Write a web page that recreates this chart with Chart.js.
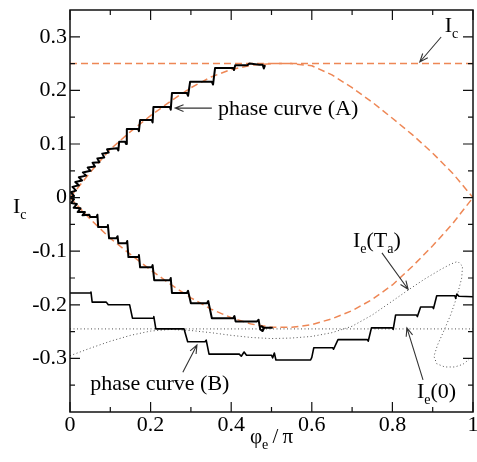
<!DOCTYPE html>
<html>
<head>
<meta charset="utf-8">
<script src="https://cdn.jsdelivr.net/npm/chart.js@4.4.0/dist/chart.umd.min.js"></script>
<style>
  body { margin: 0; background: #fff; }
  #wrap { width: 477px; height: 462px; }
</style>
</head>
<body>
<div id="wrap"><canvas id="canvas1" width="477" height="462"></canvas></div>
<script>
// tick values and labels
const xTickVals = [0, 0.2, 0.4, 0.6, 0.8, 1];
const xTickLabels = ['0', '0.2', '0.4', '0.6', '0.8', '1'];
const xMinorVals = [0.1, 0.3, 0.5, 0.7, 0.9];
const yTickVals = [-0.3, -0.2, -0.1, 0, 0.1, 0.2, 0.3];
const yTickLabels = ['-0.3', '-0.2', '-0.1', '0', '0.1', '0.2', '0.3'];
const yMinorVals = [-0.35, -0.25, -0.15, -0.05, 0.05, 0.15, 0.25];

// phase curve (A), upper branch  [phi_e/pi, I]
const phaseAUpper = [
    [0, 0], [0.010, 0.003], [0.002, 0.010], [0.015, 0.013], [0.006, 0.020], [0.022, 0.023],
    [0.013, 0.029], [0.030, 0.032], [0.022, 0.038], [0.040, 0.041], [0.032, 0.047], [0.051, 0.050],
    [0.044, 0.056], [0.062, 0.058], [0.056, 0.065], [0.073, 0.066], [0.068, 0.073], [0.085, 0.075],
    [0.080, 0.082], [0.096, 0.084], [0.092, 0.090], [0.117, 0.092], [0.120, 0.088], [0.122, 0.104],
    [0.137, 0.104], [0.139, 0.100], [0.141, 0.128], [0.169, 0.128], [0.171, 0.124], [0.174, 0.145],
    [0.203, 0.145], [0.205, 0.140], [0.207, 0.169], [0.248, 0.169], [0.250, 0.164], [0.253, 0.195],
    [0.290, 0.195], [0.293, 0.190], [0.298, 0.216], [0.352, 0.216], [0.355, 0.211], [0.360, 0.242],
    [0.405, 0.242], [0.407, 0.238], [0.410, 0.247], [0.440, 0.247], [0.445, 0.250], [0.470, 0.248],
    [0.478, 0.248], [0.481, 0.241], [0.484, 0.247]
];
// phase curve (A), lower branch
const phaseALower = [
    [0, 0], [0.010, -0.003], [0.003, -0.010], [0.017, -0.012], [0.009, -0.019], [0.026, -0.020],
    [0.019, -0.027], [0.037, -0.027], [0.031, -0.033], [0.048, -0.032], [0.050, -0.036],
    [0.066, -0.036], [0.068, -0.032], [0.070, -0.055], [0.092, -0.055], [0.094, -0.051],
    [0.097, -0.076], [0.115, -0.076], [0.118, -0.072], [0.120, -0.085], [0.140, -0.085],
    [0.142, -0.081], [0.145, -0.111], [0.169, -0.111], [0.171, -0.107], [0.174, -0.130],
    [0.203, -0.130], [0.205, -0.126], [0.209, -0.154], [0.248, -0.154], [0.250, -0.150],
    [0.253, -0.178], [0.290, -0.178], [0.293, -0.174], [0.300, -0.197], [0.340, -0.197],
    [0.343, -0.193], [0.352, -0.225], [0.405, -0.225], [0.408, -0.221], [0.411, -0.231],
    [0.464, -0.231], [0.468, -0.228], [0.472, -0.246], [0.478, -0.249], [0.482, -0.243],
    [0.475, -0.240], [0.480, -0.243], [0.503, -0.243]
];
// phase curve (B)
const phaseB = [
    [0, -0.178], [0.050, -0.178], [0.052, -0.176], [0.055, -0.195], [0.090, -0.195], [0.095, -0.200],
    [0.141, -0.200], [0.148, -0.200], [0.155, -0.225], [0.206, -0.225], [0.208, -0.222],
    [0.213, -0.245], [0.280, -0.245], [0.283, -0.245], [0.292, -0.269], [0.335, -0.269],
    [0.338, -0.266], [0.345, -0.292], [0.420, -0.292], [0.425, -0.296], [0.432, -0.288],
    [0.438, -0.294], [0.500, -0.294], [0.503, -0.299], [0.507, -0.290], [0.511, -0.303],
    [0.597, -0.303], [0.600, -0.298], [0.605, -0.280], [0.652, -0.280], [0.654, -0.283],
    [0.665, -0.265], [0.738, -0.265], [0.740, -0.268], [0.748, -0.243], [0.800, -0.243],
    [0.802, -0.246], [0.808, -0.219], [0.860, -0.219], [0.862, -0.222], [0.870, -0.204],
    [0.900, -0.204], [0.902, -0.207], [0.910, -0.183], [0.955, -0.183], [0.957, -0.188],
    [0.960, -0.180], [0.965, -0.184], [1.0, -0.185]
];
// dashed Ic curves
const icTop = [[0, 0.25], [1, 0.25]];
const icUpper = [
    [0, 0], [0.05, 0.047], [0.1, 0.09], [0.15, 0.123], [0.2, 0.153], [0.25, 0.18], [0.3, 0.205],
    [0.35, 0.225], [0.4, 0.239], [0.45, 0.247], [0.5, 0.25], [0.55, 0.25], [0.6, 0.246],
    [0.65, 0.229], [0.7, 0.205], [0.75, 0.178], [0.8, 0.148], [0.85, 0.117], [0.9, 0.083],
    [0.95, 0.045], [1.0, 0]
];
const icLower = [
    [0, 0], [0.05, -0.04], [0.1, -0.076], [0.15, -0.106], [0.2, -0.135], [0.25, -0.162],
    [0.3, -0.187], [0.35, -0.208], [0.4, -0.224], [0.45, -0.236], [0.5, -0.242], [0.55, -0.242],
    [0.6, -0.237], [0.65, -0.226], [0.7, -0.211], [0.75, -0.19], [0.8, -0.163], [0.85, -0.128],
    [0.9, -0.09], [0.95, -0.048], [1.0, 0]
];
// dotted Ie curves
const ie0 = [[0, -0.245], [1, -0.245]];
const ieTa = [
    [0, -0.295], [0.05, -0.281], [0.1, -0.268], [0.15, -0.257], [0.2, -0.249], [0.25, -0.246],
    [0.3, -0.248], [0.35, -0.252], [0.4, -0.257], [0.45, -0.261], [0.5, -0.263], [0.55, -0.262],
    [0.6, -0.259], [0.65, -0.252], [0.7, -0.24], [0.75, -0.219], [0.8, -0.193], [0.84, -0.172],
    [0.88, -0.152], [0.92, -0.134], [0.945, -0.124], [0.962, -0.119], [0.974, -0.128],
    [0.972, -0.15], [0.96, -0.185], [0.945, -0.218], [0.928, -0.248], [0.912, -0.275],
    [0.903, -0.296], [0.91, -0.31], [0.93, -0.316], [0.955, -0.316], [0.975, -0.311], [0.99, -0.302]
];

const FONT = '"Liberation Serif", "DejaVu Serif", serif';

function pts(arr) {
    return arr.map(p => ({ x: p[0], y: p[1] }));
}

function line(arr, color, width, dash, order) {
    return {
        data: pts(arr),
        showLine: true,
        borderColor: color,
        borderWidth: width,
        borderDash: dash,
        borderJoinStyle: 'round',
        borderCapStyle: 'butt',
        pointRadius: 0,
        tension: 0,
        order: order
    };
}

// text with subscripts: parts = [[text, isSub], ...]
function richText(ctx, x, y, parts, size) {
    size = size || 22;
    ctx.textBaseline = 'alphabetic';
    ctx.textAlign = 'left';
    parts.forEach(p => {
        if (p[1]) {
            ctx.font = '14px ' + FONT;
            ctx.fillText(p[0], x, y + 6);
        } else {
            ctx.font = size + 'px ' + FONT;
            ctx.fillText(p[0], x, y);
        }
        x += ctx.measureText(p[0]).width;
    });
}

function arrow(ctx, x1, y1, x2, y2) {
    const a = Math.atan2(y2 - y1, x2 - x1);
    const h = 9, w = 0.38;
    ctx.beginPath();
    ctx.moveTo(x1, y1);
    ctx.lineTo(x2, y2);
    ctx.moveTo(x2 - h * Math.cos(a - w), y2 - h * Math.sin(a - w));
    ctx.lineTo(x2, y2);
    ctx.lineTo(x2 - h * Math.cos(a + w), y2 - h * Math.sin(a + w));
    ctx.stroke();
}

const frameTicks = {
    id: 'frameTicks',
    afterDraw(chart) {
        const ctx = chart.ctx;
        const xs = chart.scales.x, ys = chart.scales.y;
        const a = chart.chartArea;
        const X = v => xs.getPixelForValue(v);
        const Y = v => ys.getPixelForValue(v);
        ctx.save();
        ctx.strokeStyle = '#111';
        ctx.lineWidth = 1.5;
        ctx.strokeRect(a.left, a.top, a.right - a.left, a.bottom - a.top);

        ctx.lineWidth = 1.2;
        ctx.beginPath();
        function xt(v, len) {
            const p = X(v);
            ctx.moveTo(p, a.bottom); ctx.lineTo(p, a.bottom - len);
            ctx.moveTo(p, a.top); ctx.lineTo(p, a.top + len);
        }
        function yt(v, len) {
            const p = Y(v);
            ctx.moveTo(a.left, p); ctx.lineTo(a.left + len, p);
            ctx.moveTo(a.right, p); ctx.lineTo(a.right - len, p);
        }
        xTickVals.forEach(v => xt(v, 10));
        xMinorVals.forEach(v => xt(v, 5));
        yTickVals.forEach(v => yt(v, 10));
        yMinorVals.forEach(v => yt(v, 5));
        ctx.stroke();

        // axis titles
        ctx.fillStyle = '#000';
        richText(ctx, 13, 213, [['I', 0], ['c', 1]]);
        richText(ctx, 250, 443, [['\u03c6', 0], ['e', 1], ['\u2009/\u2009\u03c0', 0]], 21);

        // annotations
        richText(ctx, X(0.367), Y(0.154), [['phase curve (A)', 0]]);
        richText(ctx, X(0.93), Y(0.309), [['I', 0], ['c', 1]]);
        richText(ctx, X(0.702), Y(-0.092), [['I', 0], ['e', 1], ['(T', 0], ['a', 1], [')', 0]]);
        richText(ctx, X(0.861), Y(-0.374), [['I', 0], ['e', 1], ['(0)', 0]]);
        richText(ctx, X(0.05), Y(-0.359), [['phase curve (B)', 0]]);

        ctx.strokeStyle = '#333';
        ctx.lineWidth = 1.1;
        arrow(ctx, X(0.352), Y(0.167), X(0.261), Y(0.167));
        arrow(ctx, X(0.921), Y(0.2996), X(0.868), Y(0.253));
        arrow(ctx, X(0.774), Y(-0.103), X(0.839), Y(-0.171));
        arrow(ctx, X(0.876), Y(-0.340), X(0.836), Y(-0.243));
        arrow(ctx, X(0.280), Y(-0.326), X(0.315), Y(-0.275));
        ctx.restore();
    }
};

function DrawChart() {
    const orange = 'rgb(238, 135, 85)';
    const dotted = 'rgb(80, 80, 80)';
    const data = {
        datasets: [
            line(phaseAUpper, '#000', 2, [], 0),
            line(phaseALower, '#000', 2, [], 0),
            line(phaseB, '#000', 1.6, [], 1),
            line(icTop, orange, 1.5, [7, 4], 2),
            line(icUpper, orange, 1.5, [7, 4], 2),
            line(icLower, orange, 1.5, [7, 4], 2),
            line(ie0, dotted, 1, [1, 2.5], 3),
            line(ieTa, dotted, 1, [1, 2.5], 3)
        ]
    };
    const tickFont = { family: FONT, size: 22 };
    const config = {
        type: 'scatter',
        data: data,
        options: {
            responsive: false,
            animation: false,
            layout: { padding: { left: 0, right: 4, top: 10, bottom: 0 } },
            plugins: {
                legend: { display: false },
                tooltip: { enabled: false }
            },
            scales: {
                x: {
                    type: 'linear',
                    min: 0,
                    max: 1,
                    grid: { display: false, drawTicks: false },
                    border: { display: false },
                    ticks: {
                        padding: 0,
                        color: '#000',
                        font: tickFont,
                        callback: (v, i) => xTickLabels[i]
                    },
                    afterBuildTicks: s => { s.ticks = xTickVals.map(v => ({ value: v })); },
                    afterFit: s => { s.height = 50; s.paddingLeft = 0; s.paddingRight = 0; }
                },
                y: {
                    type: 'linear',
                    min: -0.4,
                    max: 0.35,
                    grid: { display: false, drawTicks: false },
                    border: { display: false },
                    ticks: {
                        padding: 3,
                        color: '#000',
                        font: tickFont,
                        callback: (v, i) => yTickLabels[i]
                    },
                    afterBuildTicks: s => { s.ticks = yTickVals.map(v => ({ value: v })); },
                    afterFit: s => { s.width = 70; s.paddingTop = 0; s.paddingBottom = 0; }
                }
            }
        },
        plugins: [frameTicks]
    };
    const canvas = document.getElementById('canvas1');
    return new Chart(canvas, config);
}

DrawChart();
</script>
</body>
</html>
